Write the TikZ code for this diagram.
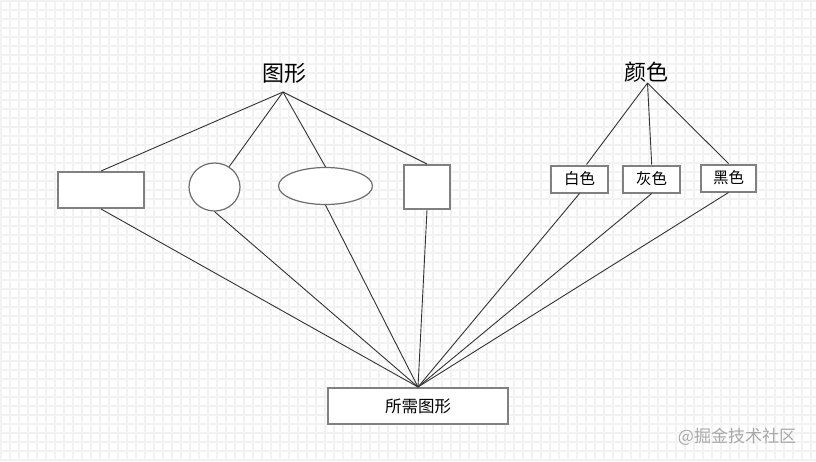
\documentclass[tikz,border=0pt]{standalone}
\usepackage{fontspec}
\newfontfamily\cjk{Noto Sans CJK SC}
\usetikzlibrary{shapes.geometric}
\definecolor{gridc}{HTML}{F2F2F2}
\definecolor{boxc}{HTML}{808080}
\definecolor{linec}{HTML}{333333}
\definecolor{wmc}{HTML}{A8A8A8}
\tikzset{
  boxnode/.style={draw=boxc, line width=2pt, fill=white, inner sep=0pt},
  roundnode/.style={ellipse, draw=boxc!85!black, line width=1.2pt, fill=white, inner sep=0pt},
  title/.style={font=\cjk\fontsize{22}{24}\selectfont, text=black, inner sep=0pt},
  small/.style={font=\cjk\fontsize{15.5}{17}\selectfont},
  conn/.style={draw=linec, line width=0.9pt},
}
\begin{document}
\begin{tikzpicture}[x=1pt,y=-1pt]
\useasboundingbox (0,0) rectangle (816,461);
\fill[white] (0,0) rectangle (816,461);
\foreach \i in {0,...,90} {\draw[gridc, line width=1.6pt] (1+9*\i,0) -- (1+9*\i,461);}
\foreach \j in {0,...,51} {\draw[gridc, line width=1.6pt] (0,1+9*\j) -- (816,1+9*\j);}

% left group
\node[title] (tx) at (284,73) {图形};
\coordinate (ta) at (283,92);
\node[boxnode, minimum width=86pt, minimum height=36pt] (r1) at (101,190) {};
\node[roundnode, minimum width=51pt, minimum height=48pt] (c1) at (214.5,187) {};
\node[roundnode, minimum width=94pt, minimum height=37pt] (e1) at (325.5,186) {};
\node[boxnode, minimum width=46pt, minimum height=44pt] (sq) at (427,187) {};

% right group
\node[title] (ctx) at (646,72) {颜色};
\coordinate (ca) at (647.5,83);
\node[boxnode, small, minimum width=57.5pt, minimum height=27pt] (w) at (579.5,179) {白色};
\node[boxnode, small, minimum width=56.5pt, minimum height=27pt] (g) at (651.7,179) {灰色};
\node[boxnode, small, minimum width=55pt, minimum height=27pt] (k) at (728.5,178) {黑色};

% bottom
\node[boxnode, font=\cjk\fontsize{16.5}{18}\selectfont, minimum width=180pt, minimum height=36pt] (bot) at (418,406) {所需图形};

% connectors
\draw[conn] (ta) -- (r1.north);
\draw[conn] (ta) -- (c1);
\draw[conn] (ta) -- (e1.north);
\draw[conn] (ta) -- (sq.north);
\draw[conn] (ca) -- ([xshift=7pt]w.north);
\draw[conn] (ca) -- (g.north);
\draw[conn] (ca) -- (k.north);
\foreach \n in {r1,c1,e1,sq,w,g,k} {\draw[conn] (\n.south) -- (bot.north);}

% watermark
\node[font=\cjk\fontsize{17}{19}\selectfont, text=wmc, inner sep=0pt] (wm) at (737,437) {@掘金技术社区};
\end{tikzpicture}
\end{document}
